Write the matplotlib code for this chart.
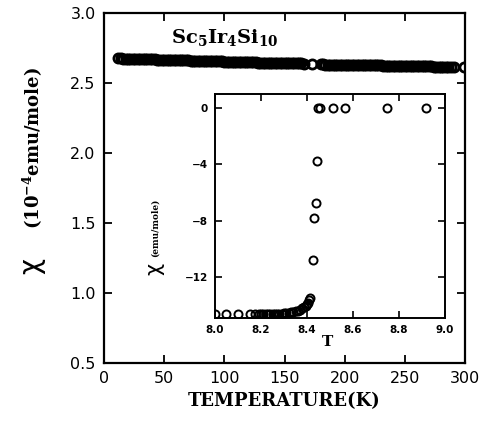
import matplotlib
matplotlib.use("Agg")
import matplotlib.pyplot as plt

plt.rcParams["mathtext.fontset"] = "dejavuserif"

# main curve: chi (1e-4 emu/mole) vs temperature (K)
temp_main = [12, 14, 16, 18, 20, 22, 24, 26, 28, 30, 32, 34, 36, 38, 40, 42, 44, 46, 48,
             50, 52, 54, 56, 58, 60, 62, 64, 66, 68, 70, 72, 74, 76, 78, 80, 82, 84, 86,
             88, 90, 92, 94, 96, 98, 100, 102, 104, 106, 108, 110, 112, 114, 116, 118,
             120, 122, 124, 126, 128, 130, 132, 134, 136, 138, 140, 142, 144, 146, 148,
             150, 152, 154, 156, 158, 160, 162, 164, 166,
             173,
             180, 182, 184, 186, 188, 190, 192, 194, 196, 198, 200, 202, 204, 206, 208,
             210, 212, 214, 216, 218, 220, 222, 224, 226, 228, 230, 232, 234, 236, 238,
             240, 242, 244, 246, 248, 250, 252, 254, 256, 258, 260, 262, 264, 266, 268,
             270, 272, 274, 276, 278, 280, 282, 284, 286, 288,
             291, 299]
chi_main = [2.675, 2.675, 2.674, 2.674, 2.673, 2.673, 2.672, 2.672, 2.671, 2.671, 2.670,
            2.670, 2.669, 2.669, 2.668, 2.668, 2.667, 2.667, 2.666, 2.666, 2.665, 2.665,
            2.664, 2.664, 2.663, 2.663, 2.662, 2.662, 2.661, 2.661, 2.660, 2.660, 2.659,
            2.659, 2.658, 2.658, 2.657, 2.657, 2.656, 2.656, 2.655, 2.655, 2.654, 2.654,
            2.653, 2.653, 2.652, 2.652, 2.651, 2.651, 2.650, 2.650, 2.649, 2.649, 2.648,
            2.648, 2.647, 2.647, 2.646, 2.646, 2.645, 2.645, 2.644, 2.644, 2.643, 2.643,
            2.643, 2.642, 2.642, 2.642, 2.641, 2.641, 2.641, 2.640, 2.640, 2.640, 2.640,
            2.639,
            2.636,
            2.633, 2.633, 2.632, 2.632, 2.632, 2.631, 2.631, 2.631, 2.630, 2.630, 2.630,
            2.629, 2.629, 2.629, 2.628, 2.628, 2.628, 2.627, 2.627, 2.627, 2.626, 2.626,
            2.626, 2.625, 2.625, 2.625, 2.624, 2.624, 2.624, 2.623, 2.623, 2.623, 2.622,
            2.622, 2.622, 2.621, 2.621, 2.621, 2.620, 2.620, 2.620, 2.619, 2.619, 2.619,
            2.618, 2.618, 2.618, 2.617, 2.617, 2.617, 2.616, 2.616, 2.616, 2.616, 2.615,
            2.615, 2.614]

# inset: superconducting transition
temp_inset = [8.000, 8.047, 8.100, 8.150, 8.175, 8.190, 8.200, 8.210, 8.220, 8.230,
              8.240, 8.250, 8.260, 8.270, 8.280, 8.290, 8.300, 8.310, 8.320, 8.330,
              8.340, 8.350, 8.360, 8.370, 8.378, 8.386, 8.394, 8.400, 8.405, 8.410,
              8.413, 8.426, 8.430, 8.439, 8.443,
              8.448, 8.457, 8.513, 8.565, 8.748, 8.917]
chi_inset = [-14.65, -14.65, -14.65, -14.65, -14.65, -14.65, -14.65, -14.65, -14.65,
             -14.65, -14.64, -14.64, -14.63, -14.62, -14.61, -14.60, -14.58, -14.56,
             -14.53, -14.50, -14.46, -14.42, -14.37, -14.30, -14.22, -14.13, -14.02,
             -13.92, -13.80, -13.62, -13.45, -10.8, -7.8, -6.75, -3.76,
             0, 0, 0, 0, 0, 0]

main_xticks = [0, 50, 100, 150, 200, 250, 300]
main_yticks = [0.5, 1.0, 1.5, 2.0, 2.5, 3.0]
inset_xticks = [8.0, 8.2, 8.4, 8.6, 8.8, 9.0]
inset_yticks = [0, -4, -8, -12]

W, H = 487, 423
fig = plt.figure(figsize=(W / 100, H / 100), dpi=100)


def frac(x0, y0, x1, y1):
    return [x0 / W, 1 - y1 / H, (x1 - x0) / W, (y1 - y0) / H]


ax = fig.add_axes(frac(104, 13, 465, 363))
ax.plot(temp_main, chi_main, "o", ms=6.6, mfc="none", mec="black", mew=2.0)
ax.set_xlim(0, 300)
ax.set_ylim(0.5, 3.0)
ax.set_xticks(main_xticks)
ax.set_yticks(main_yticks)
ax.set_xticklabels([str(t) for t in main_xticks])
ax.set_yticklabels([f"{t:.1f}" for t in main_yticks])
ax.tick_params(direction="in", length=6, width=1.3, top=True, right=True,
               labelsize=11.5, pad=6)
for s in ax.spines.values():
    s.set_linewidth(1.6)
ax.set_xlabel("TEMPERATURE(K)", family="DejaVu Serif", weight="bold", fontsize=13,
              labelpad=4)
ax.text(56, 2.785, r"Sc$_{\mathbf{5}}$Ir$_{\mathbf{4}}$Si$_{\mathbf{10}}$",
        family="DejaVu Serif", weight="bold", fontsize=14)

fig.text(31 / W, 1 - 266 / H, "χ", fontsize=20, ha="center", va="center",
         rotation=90, family="DejaVu Sans")
fig.text(33 / W, 1 - 148 / H, r"(10$^{\mathbf{-4}}$emu/mole)", family="DejaVu Serif",
         weight="bold", fontsize=13, ha="center", va="center", rotation=90)

ins = fig.add_axes(frac(215, 94, 445, 318))
ins.patch.set_facecolor("white")
ins.plot(temp_inset, chi_inset, "o", ms=5.8, mfc="none", mec="black", mew=1.4)
ins.set_xlim(8.0, 9.0)
ins.set_ylim(-14.9, 1.0)
ins.set_xticks(inset_xticks)
ins.set_yticks(inset_yticks)
ins.set_xticklabels([f"{t:.1f}" for t in inset_xticks])
ins.set_yticklabels(["0", "\u22124", "\u22128", "\u221212"])
ins.tick_params(direction="in", length=5, width=1.2, top=True, right=True,
                labelsize=7.5, pad=5)
for lab in ins.get_xticklabels() + ins.get_yticklabels():
    lab.set_fontweight("bold")
for s in ins.spines.values():
    s.set_linewidth(1.4)

fig.text(328 / W, 1 - 342 / H, "T", family="DejaVu Serif", weight="bold",
         fontsize=11, ha="center", va="center")
fig.text(154 / W, 1 - 269 / H, "χ", fontsize=15, ha="center", va="center",
         rotation=90, family="DejaVu Sans")
fig.text(155 / W, 1 - 228 / H, "(emu/mole)", family="DejaVu Serif", weight="bold",
         fontsize=6.5, ha="center", va="center", rotation=90)

fig.savefig("out.png", dpi=100)
